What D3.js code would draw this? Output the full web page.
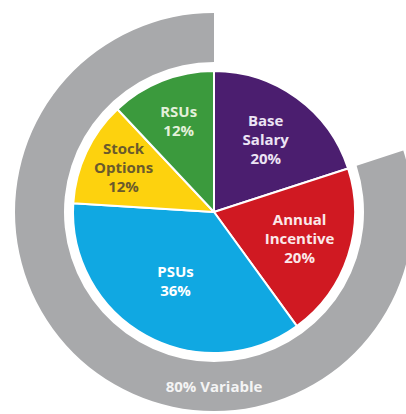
<!DOCTYPE html>
<html>
<head>
<meta charset="utf-8">
<script src="https://cdn.jsdelivr.net/npm/d3@7"></script>
<style>
  html, body { margin: 0; padding: 0; background: #ffffff; }
  svg { display: block; }
  text { font-family: "Open Sans", "DejaVu Sans", sans-serif; font-weight: 700; }
</style>
</head>
<body>
<div id="chart"></div>
<script>
// Pay mix components (percent of total target compensation)
const categories = ["Base Salary", "Annual Incentive", "PSUs", "Stock Options", "RSUs"];
const values = [20, 20, 36, 12, 12];
const labelLines = [["Base", "Salary", "20%"], ["Annual", "Incentive", "20%"], ["PSUs", "36%"], ["Stock", "Options", "12%"], ["RSUs", "12%"]];
const variableLabel = "80% Variable";
const variableShare = 80;

const colors = ["#4b1e6f", "#d01922", "#10a8e2", "#fdd20e", "#3b9a3d"];
const textColors = ["#ece4f4", "#fbe9ea", "#ffffff", "#6a5a2c", "#e3f0da"];
const labelRadius = [88, 90, 80, 100, 96];

const width = 406, height = 414;
const cx = 214, cy = 212;
const rPie = 141, rRingIn = 150, rRingOut = 199;

const svg = d3.select("#chart").append("svg")
  .attr("width", width).attr("height", height);

const g = svg.append("g").attr("transform", `translate(${cx},${cy})`);

// Outer band spanning the variable (at-risk) portion, ending at 12 o'clock
const fixedShare = 100 - variableShare;
const angle = d3.scaleLinear().domain([0, 100]).range([0, 2 * Math.PI]);
g.append("path")
  .attr("d", d3.arc().innerRadius(rRingIn).outerRadius(rRingOut)
    .startAngle(angle(fixedShare)).endAngle(angle(100))())
  .attr("fill", "#a8a9ab");

g.append("text")
  .attr("x", 0).attr("y", (rRingIn + rRingOut) / 2 + 1)
  .attr("text-anchor", "middle").attr("dominant-baseline", "middle")
  .attr("font-size", 15).attr("fill", "#f4f4f4")
  .text(variableLabel);

// Pie slices
const pie = d3.pie().sort(null).value(d => d)(values);
const arc = d3.arc().innerRadius(0).outerRadius(rPie);

g.selectAll("path.slice").data(pie).join("path")
  .attr("class", "slice")
  .attr("d", arc)
  .attr("fill", (d, i) => colors[i])
  .attr("stroke", "#ffffff").attr("stroke-width", 2).attr("stroke-linejoin", "round");

// Slice labels
const lineH = 19;
pie.forEach((d, i) => {
  const a = (d.startAngle + d.endAngle) / 2;
  const x = Math.sin(a) * labelRadius[i];
  const y = -Math.cos(a) * labelRadius[i];
  const lines = labelLines[i];
  const t = g.append("text")
    .attr("text-anchor", "middle")
    .attr("font-size", 15)
    .attr("fill", textColors[i]);
  lines.forEach((ln, k) => {
    t.append("tspan")
      .attr("x", x)
      .attr("y", y + (k - (lines.length - 1) / 2) * lineH)
      .attr("dominant-baseline", "middle")
      .text(ln);
  });
});
</script>
</body>
</html>
